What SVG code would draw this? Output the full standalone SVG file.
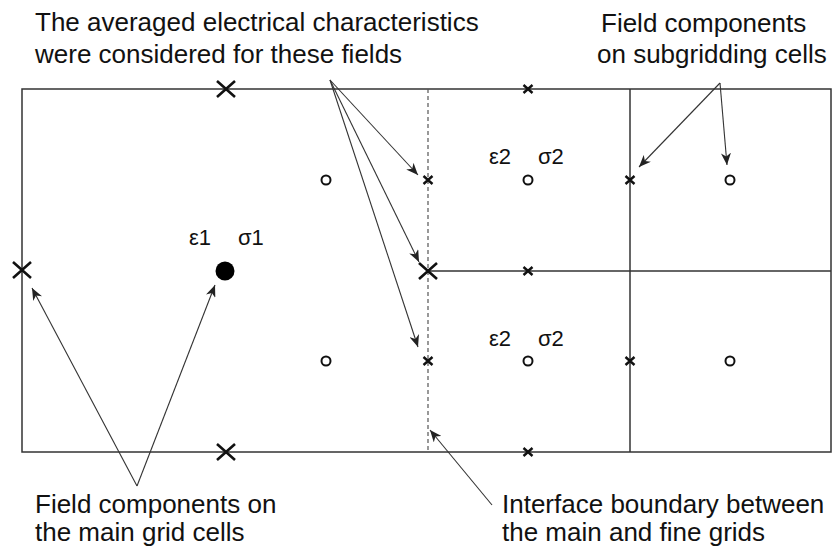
<svg xmlns="http://www.w3.org/2000/svg" width="835" height="548" viewBox="0 0 835 548">
  <style>
    .lbl { font-family: "Liberation Sans", Arial, sans-serif; font-size: 26px; fill: #111; }
    .sym { font-family: "Liberation Sans", "DejaVu Sans", sans-serif; font-size: 22px; fill: #111; }
    .grid { fill: none; stroke: #333; stroke-width: 1.5; }
    .dash { fill: none; stroke: #555; stroke-width: 1.2; stroke-dasharray: 4 3; }
    .bigx { stroke: #111; stroke-width: 2.6; fill: none; }
    .smx { stroke: #111; stroke-width: 2.4; fill: none; }
    .circ { fill: #fff; stroke: #111; stroke-width: 2; }
    .conn { fill: none; stroke: #333; stroke-width: 1.1; marker-end: url(#ah); }
  </style>
  <defs>
    <marker id="ah" viewBox="0 0 12 10" refX="12" refY="5" markerWidth="12" markerHeight="10" markerUnits="userSpaceOnUse" orient="auto">
      <path d="M0,0 L12,5 L0,10 L3.5,5 z" fill="#222"/>
    </marker>
    <path id="bx" d="M-9,-8 L9,8 M-9,8 L9,-8"/>
    <path id="sx" d="M-4.5,-4 L4.5,4 M-4.5,4 L4.5,-4"/>
  </defs>
  <rect width="835" height="548" fill="#fff"/>

  <g id="grid-lines">
    <rect class="grid" x="22" y="89" width="809" height="363"/>
    <line class="dash" x1="428" y1="89" x2="428" y2="452"/>
    <line class="grid" x1="428" y1="271" x2="831" y2="271"/>
    <line class="grid" x1="630" y1="89" x2="630" y2="452"/>
  </g>

  <g id="main-grid-fields">
    <use href="#bx" class="bigx" x="226" y="89"/>
    <use href="#bx" class="bigx" x="22" y="270"/>
    <use href="#bx" class="bigx" x="428" y="271"/>
    <use href="#bx" class="bigx" x="226" y="452"/>
    <circle cx="225" cy="271" r="9.5" fill="#000"/>
  </g>

  <g id="sub-grid-fields">
    <use href="#sx" class="smx" x="528" y="89"/>
    <use href="#sx" class="smx" x="428" y="180"/>
    <use href="#sx" class="smx" x="528" y="271"/>
    <use href="#sx" class="smx" x="428" y="361"/>
    <use href="#sx" class="smx" x="630" y="180"/>
    <use href="#sx" class="smx" x="630" y="361"/>
    <use href="#sx" class="smx" x="528" y="452"/>
    <circle class="circ" cx="326" cy="180" r="4.5"/>
    <circle class="circ" cx="528" cy="180" r="4.5"/>
    <circle class="circ" cx="730" cy="180" r="4.5"/>
    <circle class="circ" cx="326" cy="361" r="4.5"/>
    <circle class="circ" cx="528" cy="361" r="4.5"/>
    <circle class="circ" cx="730" cy="361" r="4.5"/>
  </g>

  <g id="material-labels">
    <text class="sym" y="245"><tspan x="189">ε1</tspan><tspan x="238">σ1</tspan></text>
    <text class="sym" y="164"><tspan x="489">ε2</tspan><tspan x="538">σ2</tspan></text>
    <text class="sym" y="346"><tspan x="489">ε2</tspan><tspan x="538">σ2</tspan></text>
  </g>

  <g id="label-averaged">
    <text class="lbl" x="35" y="31">The averaged electrical characteristics</text>
    <text class="lbl" x="35" y="63">were considered for these fields</text>
  </g>
  <g id="label-subgrid">
    <text class="lbl" x="601" y="32">Field components</text>
    <text class="lbl" x="597" y="63">on subgridding cells</text>
  </g>
  <g id="label-main">
    <text class="lbl" x="35" y="513">Field components on</text>
    <text class="lbl" x="35" y="541">the main grid cells</text>
  </g>
  <g id="label-interface">
    <text class="lbl" x="502" y="513">Interface boundary between</text>
    <text class="lbl" x="502" y="541">the main and fine grids</text>
  </g>

  <g id="connectors">
    <line class="conn" x1="330" y1="80" x2="418" y2="175"/>
    <line class="conn" x1="330" y1="80" x2="419" y2="262"/>
    <line class="conn" x1="330" y1="80" x2="418" y2="347"/>
    <line class="conn" x1="720" y1="83" x2="639" y2="167"/>
    <line class="conn" x1="720" y1="83" x2="727" y2="165"/>
    <line class="conn" x1="137" y1="486" x2="32" y2="288"/>
    <line class="conn" x1="137" y1="486" x2="215" y2="285"/>
    <line class="conn" x1="492" y1="505" x2="430" y2="430"/>
  </g>
</svg>
